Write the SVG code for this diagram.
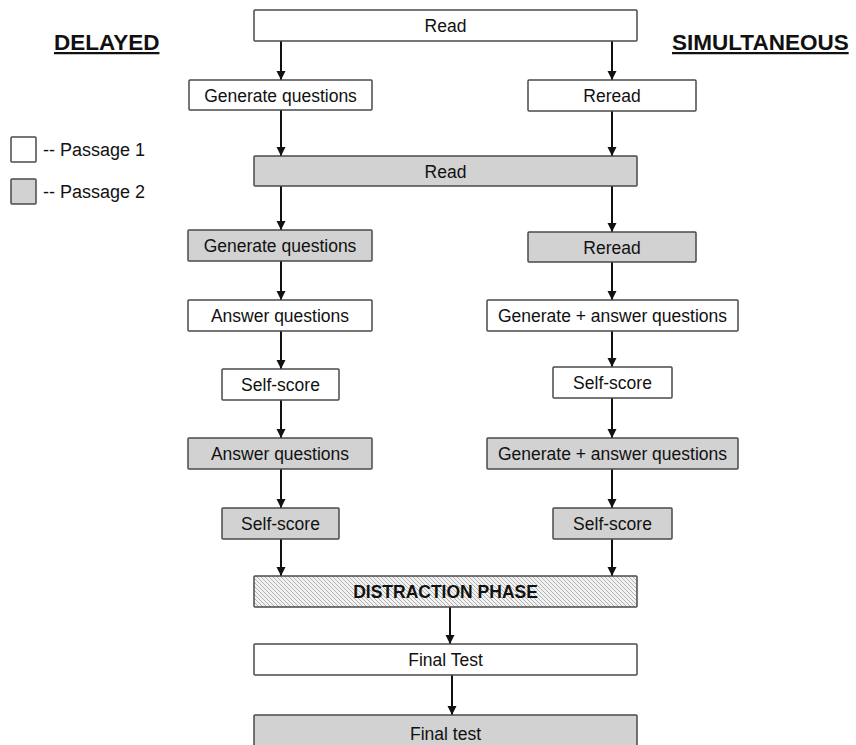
<svg xmlns="http://www.w3.org/2000/svg" width="856" height="745" viewBox="0 0 856 745">
<style>
.b{stroke:#4a4a4a;stroke-width:1.5}
.w{fill:#fff}
.g{fill:#d2d2d2}
.t{font-family:"Liberation Sans",Arial,sans-serif;font-size:17.5px;fill:#111;text-anchor:middle}
.h{font-family:"Liberation Sans",Arial,sans-serif;font-size:22.5px;font-weight:bold;fill:#111;text-decoration:underline}
.l{font-family:"Liberation Sans",Arial,sans-serif;font-size:18px;fill:#111}
.c{stroke:#111;stroke-width:2;fill:none;marker-end:url(#ah)}
</style>
<defs>
<marker id="ah" markerUnits="userSpaceOnUse" markerWidth="9" markerHeight="10" refX="9" refY="5" orient="auto">
<path d="M0,0.5 L9,5 L0,9.5 z" fill="#111"/>
</marker>
<pattern id="hatch" patternUnits="userSpaceOnUse" width="4" height="4">
<rect width="4" height="4" fill="#f2f2f2"/>
<path d="M-1,-1 L5,5 M-1,3 L1,5 M3,-1 L5,1" stroke="#a8a8a8" stroke-width="0.9"/>
</pattern>
</defs>
<rect width="856" height="745" fill="#fff"/>

<g id="title-delayed"><text class="h" x="54" y="50">DELAYED</text></g>
<g id="title-simultaneous"><text class="h" x="672" y="50">SIMULTANEOUS</text></g>

<g id="legend-p1"><rect class="b w" x="11" y="137" width="25" height="25" rx="1"/><text class="l" x="43" y="155.5">-- Passage 1</text></g>
<g id="legend-p2"><rect class="b g" x="11" y="179" width="25" height="25" rx="1"/><text class="l" x="43" y="197.5">-- Passage 2</text></g>

<g id="connectors">
<line class="c" x1="281" y1="41" x2="281" y2="80"/>
<line class="c" x1="281" y1="110" x2="281" y2="156"/>
<line class="c" x1="281" y1="186" x2="281" y2="230"/>
<line class="c" x1="281" y1="261" x2="281" y2="300"/>
<line class="c" x1="281" y1="331" x2="281" y2="369"/>
<line class="c" x1="281" y1="400" x2="281" y2="438"/>
<line class="c" x1="281" y1="469" x2="281" y2="508"/>
<line class="c" x1="281" y1="539" x2="281" y2="576"/>
<line class="c" x1="612" y1="41" x2="612" y2="80"/>
<line class="c" x1="612" y1="111" x2="612" y2="156"/>
<line class="c" x1="612" y1="186" x2="612" y2="232"/>
<line class="c" x1="612" y1="262" x2="612" y2="300"/>
<line class="c" x1="612" y1="331" x2="612" y2="367"/>
<line class="c" x1="612" y1="398" x2="612" y2="438"/>
<line class="c" x1="612" y1="469" x2="612" y2="508"/>
<line class="c" x1="612" y1="539" x2="612" y2="576"/>
<line class="c" x1="450" y1="607" x2="450" y2="644"/>
<line class="c" x1="452" y1="675" x2="452" y2="715"/>
</g>

<g id="read1"><rect class="b w" x="254" y="10" width="383" height="31" rx="1"/><text class="t" x="445.5" y="32">Read</text></g>
<g id="gen1"><rect class="b w" x="189" y="80" width="183" height="30" rx="1"/><text class="t" x="280.5" y="101.5">Generate questions</text></g>
<g id="reread1"><rect class="b w" x="528" y="80" width="168" height="31" rx="1"/><text class="t" x="612" y="102">Reread</text></g>
<g id="read2"><rect class="b g" x="254" y="156" width="383" height="30" rx="1"/><text class="t" x="445.5" y="177.5">Read</text></g>
<g id="gen2"><rect class="b g" x="188" y="230" width="184" height="31" rx="1"/><text class="t" x="280" y="252">Generate questions</text></g>
<g id="reread2"><rect class="b g" x="528" y="232" width="168" height="30" rx="1"/><text class="t" x="612" y="253.5">Reread</text></g>
<g id="ans1"><rect class="b w" x="188" y="300" width="184" height="31" rx="1"/><text class="t" x="280" y="322">Answer questions</text></g>
<g id="genans1"><rect class="b w" x="487" y="300" width="251" height="31" rx="1"/><text class="t" x="612.5" y="322">Generate + answer questions</text></g>
<g id="self1L"><rect class="b w" x="222" y="369" width="117" height="31" rx="1"/><text class="t" x="280.5" y="391">Self-score</text></g>
<g id="self1R"><rect class="b w" x="553" y="367" width="119" height="31" rx="1"/><text class="t" x="612.5" y="389">Self-score</text></g>
<g id="ans2"><rect class="b g" x="188" y="438" width="184" height="31" rx="1"/><text class="t" x="280" y="460">Answer questions</text></g>
<g id="genans2"><rect class="b g" x="487" y="438" width="251" height="31" rx="1"/><text class="t" x="612.5" y="460">Generate + answer questions</text></g>
<g id="self2L"><rect class="b g" x="222" y="508" width="117" height="31" rx="1"/><text class="t" x="280.5" y="530">Self-score</text></g>
<g id="self2R"><rect class="b g" x="553" y="508" width="119" height="31" rx="1"/><text class="t" x="612.5" y="530">Self-score</text></g>
<g id="distraction"><rect class="b" fill="url(#hatch)" x="254" y="576" width="383" height="31" rx="1"/><text class="t" x="445.5" y="598" font-weight="bold">DISTRACTION PHASE</text></g>
<g id="final1"><rect class="b w" x="254" y="644" width="383" height="31" rx="1"/><text class="t" x="445.5" y="666">Final Test</text></g>
<g id="final2"><rect class="b g" x="254" y="715" width="383" height="40" rx="1"/><text class="t" x="445.5" y="739.5">Final test</text></g>
</svg>
